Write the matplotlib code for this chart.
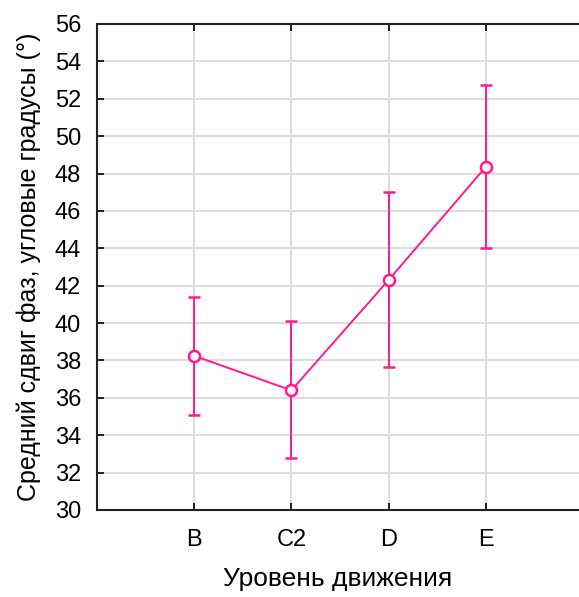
import matplotlib.pyplot as plt
import numpy as np

plt.rcParams['font.family'] = ['Liberation Sans', 'DejaVu Sans']

levels = ['B', 'C2', 'D', 'E']
means = [38.25, 36.4, 42.3, 48.35]
upper = [41.4, 40.1, 47.0, 52.75]
lower = [35.1, 32.8, 37.65, 44.0]

x = np.arange(1, len(levels) + 1)
err = [np.array(means) - np.array(lower), np.array(upper) - np.array(means)]

fig = plt.figure(figsize=(5.79, 5.97), dpi=100)
ax = fig.add_axes([97 / 579, 1 - 510 / 597, 1 - 97 / 579, 486 / 597])

pink = '#ff1a8c'
ax.errorbar(x, means, yerr=err, color=pink, lw=1.4, elinewidth=1.4,
            capsize=4, capthick=1.4, marker='o', ms=8, mfc='white',
            mec=pink, mew=1.8, zorder=3)

ax.set_xlim(0, 4.96)
ax.set_ylim(30, 56)
ax.set_yticks(np.arange(30, 57, 2))
ax.set_xticks(x)
ax.set_xticklabels(levels)
ax.grid(True, color='#dcdcdc', lw=1.4)
ax.set_axisbelow(True)
ax.spines['right'].set_visible(False)
for s in ['left', 'top', 'bottom']:
    ax.spines[s].set_color('#222222')
    ax.spines[s].set_linewidth(1.5)
ax.tick_params(direction='in', length=5, width=1.2, labelsize=17, top=True)
ax.tick_params(axis='y', pad=11.5)
ax.tick_params(axis='x', pad=14)

ax.set_xlabel('Уровень движения', fontsize=19, labelpad=11)
ax.set_ylabel('Средний сдвиг фаз, угловые градусы (°)', fontsize=18, labelpad=10)

fig.savefig('out.png', dpi=100)
